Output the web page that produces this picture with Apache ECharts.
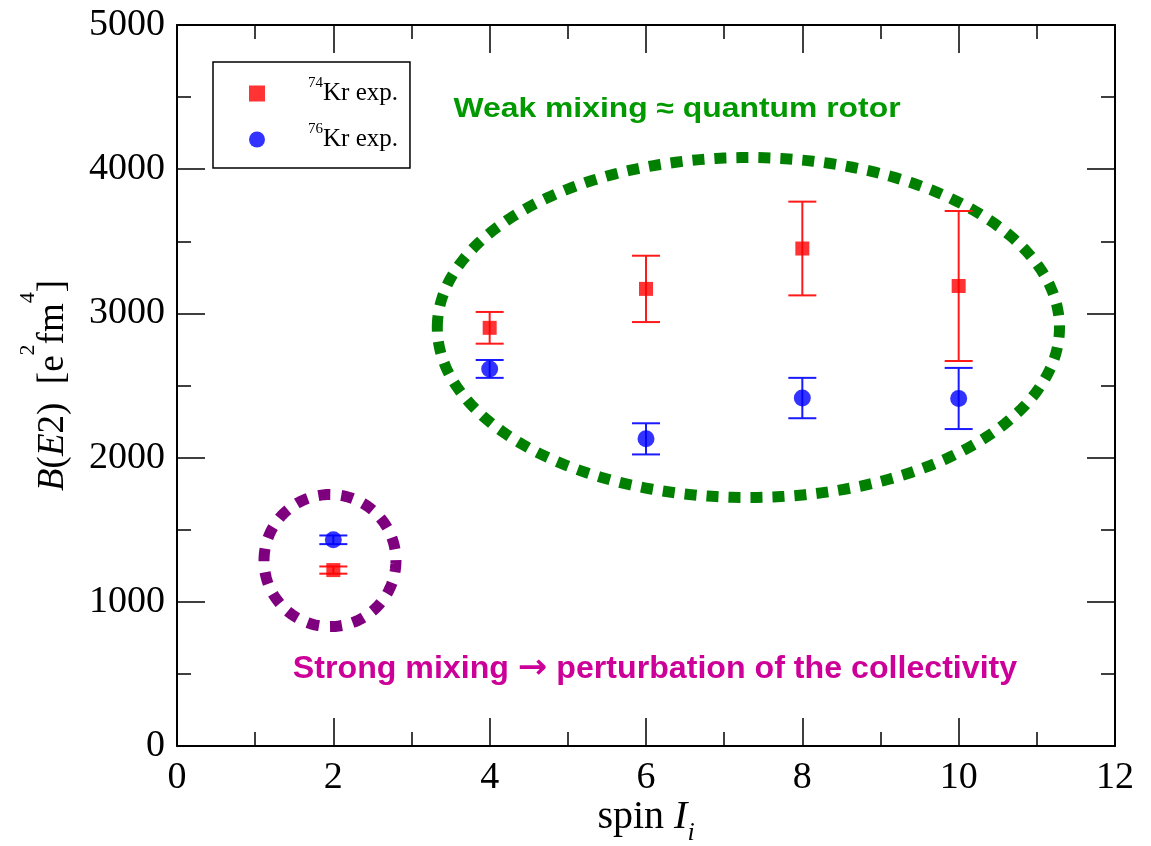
<!DOCTYPE html>
<html>
<head>
<meta charset="utf-8">
<script src="https://cdn.jsdelivr.net/npm/echarts@6/dist/echarts.min.js"></script>
<style>html,body{margin:0;padding:0;background:#fff}#c{width:1151px;height:846px}</style>
</head>
<body>
<div id="c"></div>
<script>
// ---- data ----
const spins = [2, 4, 6, 8, 10];
const kr74 = [1220, 2900, 3170, 3450, 3190];
const kr74Err = [25, 110, 230, 325, 520];
const kr76 = [1430, 2615, 2130, 2413, 2410];
const kr76Err = [30, 62, 108, 140, 212];
const xTicks = [0, 2, 4, 6, 8, 10, 12];
const yTicks = [0, 1000, 2000, 3000, 4000, 5000];
// annotation ellipses in data units: [centerX, centerY, radiusX, radiusY]
const weakEllipse = [7.31, 2902, 3.98, 1179];
const strongEllipse = [1.957, 1286, 0.844, 458];

const serif = 'Liberation Serif';

const chart = echarts.init(document.getElementById('c'), null, {renderer: 'canvas'});

function errData(vals, errs) {
  return spins.map((s, i) => [s, vals[i] - errs[i], vals[i] + errs[i]]);
}
function errRender(color) {
  return function (params, api) {
    const x = api.value(0), lo = api.value(1), hi = api.value(2);
    const p1 = api.coord([x, hi]);
    const p2 = api.coord([x, lo]);
    const hw = 14;
    const st = {stroke: color, lineWidth: 2};
    return {type: 'group', children: [
      {type: 'line', shape: {x1: p1[0], y1: p1[1], x2: p2[0], y2: p2[1]}, style: st},
      {type: 'line', shape: {x1: p1[0] - hw, y1: p1[1], x2: p1[0] + hw, y2: p1[1]}, style: st},
      {type: 'line', shape: {x1: p2[0] - hw, y1: p2[1], x2: p2[0] + hw, y2: p2[1]}, style: st}
    ]};
  };
}
function ellipseRender(color, width, dash) {
  return function (params, api) {
    const c = api.coord([api.value(0), api.value(1)]);
    const sz = api.size([api.value(2), api.value(3)]);
    const pts = [];
    const n = 240;
    for (let k = 0; k < n; k++) {
      const a = Math.PI + 2 * Math.PI * k / n;
      pts.push([c[0] + sz[0] * Math.cos(a), c[1] + sz[1] * Math.sin(a)]);
    }
    return {type: 'polygon', shape: {points: pts},
      style: {fill: null, stroke: color, lineWidth: width, lineDash: dash, lineCap: 'butt'}};
  };
}

const axisLine = {show: true, onZero: false, lineStyle: {color: '#000', width: 2}};
const tickStyle = {color: '#000', width: 1.5};

const option = {
  animation: false,
  backgroundColor: '#fff',
  grid: {left: 177, right: 36, top: 25, bottom: 100, outerBoundsMode: 'none'},
  legend: {
    orient: 'vertical',
    left: 213, top: 62,
    padding: [14, 12, 16, 36],
    itemWidth: 16, itemHeight: 16,
    itemGap: 16,
    borderColor: '#000', borderWidth: 1.5,
    data: [
      {name: '74Kr', icon: 'rect', itemStyle: {color: '#ff0000'}},
      {name: '76Kr', icon: 'circle', itemStyle: {color: '#0000ff'}}
    ],
    formatter: function (name) {
      return '{gap|}{sup|' + name.slice(0, 2) + '}{m|Kr exp.}';
    },
    textStyle: {
      fontFamily: serif, color: '#000',
      rich: {
        gap: {width: 38},
        sup: {fontSize: 15, fontFamily: serif, color: '#000', verticalAlign: 'top'},
        m: {fontSize: 25, fontFamily: serif, color: '#000', lineHeight: 35}
      }
    }
  },
  xAxis: [{
    type: 'value', position: 'bottom', min: 0, max: 12, interval: 2,
    axisLine: axisLine,
    axisTick: {show: true, inside: true, length: 28, lineStyle: tickStyle},
    minorTick: {show: true, splitNumber: 2, length: 14, lineStyle: tickStyle},
    splitLine: {show: false},
    axisLabel: {fontFamily: serif, fontSize: 38, color: '#000', margin: 13,
      formatter: v => (xTicks.indexOf(v) >= 0 ? String(v) : '')},
    name: 'spin {it|I}{sub|i}',
    nameLocation: 'middle', nameGap: 42, nameMoveOverlap: false,
    nameTextStyle: {fontFamily: serif, fontSize: 40, color: '#000', lineHeight: 58,
      rich: {it: {fontFamily: serif, fontStyle: 'italic', fontSize: 40, color: '#000', lineHeight: 58},
             sub: {fontFamily: serif, fontStyle: 'italic', fontSize: 26, color: '#000', verticalAlign: 'bottom'}}}
  }, {
    type: 'value', position: 'top', min: 0, max: 12, interval: 2,
    axisLine: axisLine,
    axisTick: {show: true, inside: true, length: 28, lineStyle: tickStyle},
    minorTick: {show: true, splitNumber: 2, length: 14, lineStyle: tickStyle},
    splitLine: {show: false}, axisLabel: {show: false}
  }],
  yAxis: [{
    type: 'value', position: 'left', min: 0, max: 5000, interval: 1000,
    axisLine: axisLine,
    axisTick: {show: true, inside: true, length: 28, lineStyle: tickStyle},
    minorTick: {show: true, splitNumber: 2, length: 14, lineStyle: tickStyle},
    splitLine: {show: false},
    axisLabel: {fontFamily: serif, fontSize: 38, color: '#000', margin: 12, padding: [8, 0, 0, 0],
      formatter: v => (yTicks.indexOf(v) >= 0 ? String(v) : '')},
    name: '{it|B}({it|E}2)  [e{sup|2}fm{sup|4}]',
    nameLocation: 'middle', nameRotate: 90, nameGap: 88, nameMoveOverlap: false,
    nameTextStyle: {fontFamily: serif, fontSize: 37, color: '#000', lineHeight: 72,
      rich: {it: {fontFamily: serif, fontStyle: 'italic', fontSize: 37, color: '#000', lineHeight: 72},
             sup: {fontFamily: serif, fontSize: 22, color: '#000', verticalAlign: 'top'}}}
  }, {
    type: 'value', position: 'right', min: 0, max: 5000, interval: 1000,
    axisLine: axisLine,
    axisTick: {show: true, inside: true, length: 28, lineStyle: tickStyle},
    minorTick: {show: true, splitNumber: 2, length: 14, lineStyle: tickStyle},
    splitLine: {show: false}, axisLabel: {show: false}
  }],
  graphic: [
    {type: 'text', x: 677, y: 110, scaleX: 1.18, style: {text: 'Weak mixing \u2248 quantum rotor',
      font: 'bold 27px "Liberation Sans"', fill: '#009900', align: 'center', verticalAlign: 'middle'}},
    {type: 'text', x: 655, y: 669, scaleX: 1.037, style: {text: 'Strong mixing {a|\u2192} perturbation of the collectivity',
      font: 'bold 31px "Liberation Sans"', fill: '#cc0099', align: 'center', verticalAlign: 'middle',
      rich: {a: {font: 'bold 34px "DejaVu Sans"', fill: '#cc0099'}}}}
  ],
  series: [
    {type: 'custom', name: 'weak', renderItem: ellipseRender('#007f00', 11, [12, 10]), clip: false,
      data: [weakEllipse], encode: {x: 0, y: 1}, silent: true, z: 1},
    {type: 'custom', name: 'strong', renderItem: ellipseRender('#7f007f', 11, [12, 11]), clip: false,
      data: [strongEllipse], encode: {x: 0, y: 1}, silent: true, z: 1},
    {type: 'custom', name: '74Kr error', renderItem: errRender('#ff1a1a'), data: errData(kr74, kr74Err),
      encode: {x: 0, y: [1, 2]}, z: 3},
    {type: 'custom', name: '76Kr error', renderItem: errRender('#1a1aff'), data: errData(kr76, kr76Err),
      encode: {x: 0, y: [1, 2]}, z: 3},
    {type: 'scatter', name: '74Kr', symbol: 'rect', symbolSize: 14, itemStyle: {color: '#ff0000'},
      data: spins.map((s, i) => [s, kr74[i]]), z: 4},
    {type: 'scatter', name: '76Kr', symbol: 'circle', symbolSize: 17, itemStyle: {color: '#0000ff'},
      data: spins.map((s, i) => [s, kr76[i]]), z: 4}
  ]
};
chart.setOption(option);
</script>
</body>
</html>
